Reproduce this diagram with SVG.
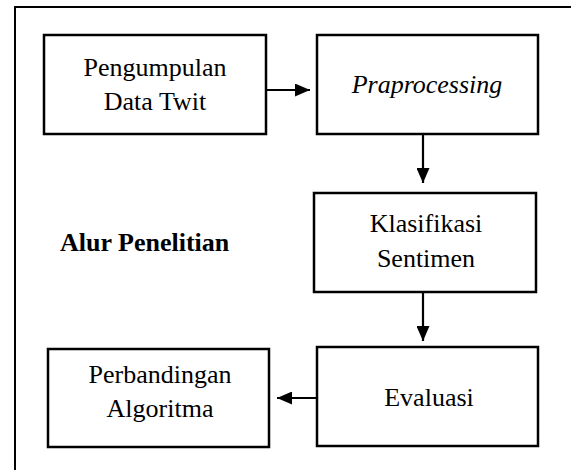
<svg xmlns="http://www.w3.org/2000/svg" width="571" height="470" viewBox="0 0 571 470">
<style>
.box{fill:#fff;stroke:#000;stroke-width:2.5}
.t{font-family:"Liberation Serif","Times New Roman",serif;font-size:26px;fill:#000;text-anchor:middle}
.lbl{font-family:"Liberation Serif","Times New Roman",serif;font-size:26px;font-weight:bold;fill:#000;text-anchor:start}
.frame{fill:none;stroke:#000;stroke-width:2}
.con{stroke:#000;stroke-width:2.2;fill:none}
</style>
<defs>
<marker id="ah" viewBox="0 0 15 13" refX="15" refY="6.5" markerWidth="15" markerHeight="13" markerUnits="userSpaceOnUse" orient="auto">
<path d="M0,0 L15,6.5 L0,13 Z" fill="#000"/>
</marker>
</defs>
<rect x="0" y="0" width="571" height="470" fill="#fff"/>
<path class="frame" d="M15,475 L15,7 L575,7"/>
<g id="n1"><rect class="box" x="44" y="35" width="222" height="99"/>
<text class="t" x="155" y="76">Pengumpulan</text><text class="t" x="155" y="110">Data Twit</text></g>
<g id="n2"><rect class="box" x="317" y="35" width="221" height="99"/>
<text class="t" x="427" y="93" font-style="italic">Praprocessing</text></g>
<g id="n3"><rect class="box" x="314" y="193" width="222" height="99"/>
<text class="t" x="426" y="232">Klasifikasi</text><text class="t" x="426" y="267">Sentimen</text></g>
<g id="n4"><rect class="box" x="317" y="347" width="221" height="99"/>
<text class="t" x="429" y="406">Evaluasi</text></g>
<g id="n5"><rect class="box" x="48" y="349" width="221" height="98"/>
<text class="t" x="160" y="383">Perbandingan</text><text class="t" x="160" y="417">Algoritma</text></g>
<g id="label"><text class="lbl" x="60" y="251">Alur Penelitian</text></g>
<g id="connectors">
<line class="con" x1="266" y1="90" x2="310" y2="90" marker-end="url(#ah)"/>
<line class="con" x1="423" y1="134" x2="423" y2="183" marker-end="url(#ah)"/>
<line class="con" x1="423" y1="292" x2="423" y2="341" marker-end="url(#ah)"/>
<line class="con" x1="317" y1="398" x2="277" y2="398" marker-end="url(#ah)"/>
</g>
</svg>
